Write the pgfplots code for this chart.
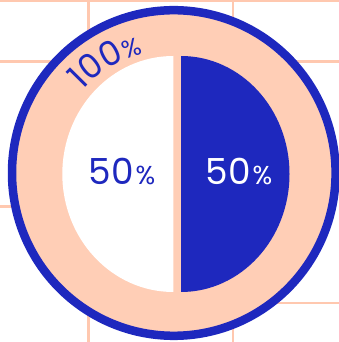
\documentclass[border=0pt]{standalone}
\usepackage{pgfplots}
\pgfplotsset{compat=1.18}
\usepackage{pgfplotstable}
\usepackage{fontspec}
\setmainfont{Poppins}
\usetikzlibrary{decorations.text}
\definecolor{myblue}{RGB}{30,40,190}
\definecolor{peach}{RGB}{255,206,182}
\definecolor{gridpeach}{RGB}{255,200,175}
\pgfplotstableread{
label value
A 50
B 50
}\piedata
\begin{document}
\begin{tikzpicture}
\pgfplotstablegetelem{0}{value}\of\piedata \let\va\pgfplotsretval
\pgfplotstablegetelem{1}{value}\of\piedata \let\vb\pgfplotsretval
\pgfmathsetmacro{\fa}{\va/(\va+\vb)}
\pgfmathsetmacro{\fb}{\vb/(\va+\vb)}
\pgfmathsetmacro{\angA}{360*\fa}
\pgfmathsetmacro{\angB}{360*\fb}
\begin{axis}[width=339bp, height=342bp, scale only axis,
  xmin=0, xmax=339, ymin=0, ymax=342, hide axis, clip=true]
% background grid
\addplot[gridpeach, line width=2.6bp] coordinates {(0,341) (339,341)};
\addplot[gridpeach, line width=2.6bp] coordinates {(0,280.5) (339,280.5)};
\addplot[gridpeach, line width=2.6bp] coordinates {(0,135.5) (100,135.5)};
\addplot[gridpeach, line width=2.6bp] coordinates {(200,39) (339,39)};
\addplot[gridpeach, line width=2.6bp] coordinates {(88.5,342) (88.5,280.5)};
\addplot[gridpeach, line width=2.6bp] coordinates {(88.5,135.5) (88.5,0)};
\addplot[gridpeach, line width=2.6bp] coordinates {(233,342) (233,280.5)};
\addplot[gridpeach, line width=2.6bp] coordinates {(233,39) (233,0)};
% outer ring (100%)
\draw[myblue, line width=8.5bp, fill=peach] (axis cs:173.8,169) ellipse[x radius=161.8bp, y radius=162.8bp];
% white half (left)
\fill[white] (axis cs:173.3,168) -- ++(0,118bp) arc[start angle=90, end angle={90+\angB}, x radius=111bp, y radius=118bp] -- cycle;
% blue half (right)
\fill[myblue] (axis cs:181,168) -- ++(0,118bp) arc[start angle=90, end angle={90-\angA}, x radius=108.5bp, y radius=118bp] -- cycle;
% labels
\node[anchor=base, text=myblue, inner sep=0pt] at (axis cs:122,157) {\fontsize{36}{36}\selectfont 50\hspace{2bp}\fontsize{26}{26}\selectfont\%};
\node[anchor=base, text=white, inner sep=0pt] at (axis cs:239,157) {\fontsize{36}{36}\selectfont 50\hspace{2bp}\fontsize{26}{26}\selectfont\%};
\path[decorate, decoration={text along path, text color=myblue, text align=center,
  text={|\fontsize{34}{34}\selectfont|100|\fontsize{25}{25}\selectfont|{\%}}}]
  (axis cs:173.8,169) ++(151:123bp) arc[start angle=151, end angle=91, radius=123bp];
\end{axis}
\pgfresetboundingbox
\path (0,0) rectangle (339bp,342bp);
\end{tikzpicture}
\end{document}
